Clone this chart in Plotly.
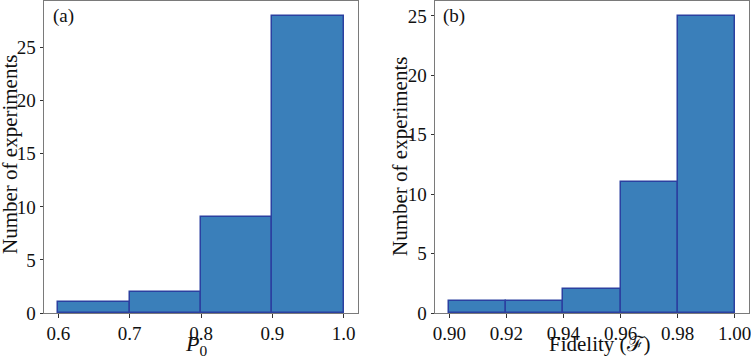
import plotly.graph_objects as go

# Panel (a): P0 histogram
p0_edges = [0.6, 0.7, 0.8, 0.9, 1.0]
p0_counts = [1, 2, 9, 28]
p0_ticks = [0.6, 0.7, 0.8, 0.9, 1.0]
p0_ticklabels = ["0.6", "0.7", "0.8", "0.9", "1.0"]

# Panel (b): Fidelity histogram
f_edges = [0.90, 0.92, 0.94, 0.96, 0.98, 1.00]
f_counts = [1, 1, 2, 11, 25]
f_ticks = [0.90, 0.92, 0.94, 0.96, 0.98, 1.00]
f_ticklabels = ["0.90", "0.92", "0.94", "0.96", "0.98", "1.00"]

y_ticks_a = [0, 5, 10, 15, 20, 25]
y_ticks_b = [0, 5, 10, 15, 20, 25]

W, H = 751, 356
FILL = "#3a7fba"
EDGE = "#2b40a0"
FRAME = "#7a7a7a"
FONT = "Liberation Serif"

fig = go.Figure()

def add_hist(edges, counts, xa, ya):
    lefts = edges[:-1]
    widths = [edges[i + 1] - edges[i] for i in range(len(counts))]
    fig.add_trace(go.Bar(
        x=lefts, y=counts, width=widths, offset=0,
        marker=dict(color=FILL, line=dict(color=EDGE, width=1.5)),
        xaxis=xa, yaxis=ya, showlegend=False, hoverinfo="skip",
    ))

add_hist(p0_edges, p0_counts, "x", "y")
add_hist(f_edges, f_counts, "x2", "y2")

def px(v):
    return v / W

def py(v):
    return 1 - v / H

xmin_a = p0_edges[0] - 0.05 * (p0_edges[-1] - p0_edges[0])
xmax_a = p0_edges[-1] + 0.05 * (p0_edges[-1] - p0_edges[0])
xmin_b = f_edges[0] - 0.05 * (f_edges[-1] - f_edges[0])
xmax_b = f_edges[-1] + 0.05 * (f_edges[-1] - f_edges[0])

def ann(text, x, y, size, angle=0, xanchor="center", yanchor="middle"):
    return dict(text=text, xref="paper", yref="paper", x=px(x), y=py(y),
                xanchor=xanchor, yanchor=yanchor, showarrow=False, textangle=angle,
                font=dict(family=FONT, size=size, color="#111"))

fig.update_layout(
    width=W, height=H,
    margin=dict(l=0, r=0, t=0, b=0),
    paper_bgcolor="white", plot_bgcolor="white",
    bargap=0,
    font=dict(family=FONT, size=19, color="#111"),
    xaxis=dict(domain=[px(44), px(358)], range=[xmin_a, xmax_a],
               tickvals=p0_ticks, ticktext=p0_ticklabels, anchor="y"),
    yaxis=dict(domain=[py(313), py(1)], range=[0, max(p0_counts) * 1.05],
               tickvals=y_ticks_a, anchor="x"),
    xaxis2=dict(domain=[px(435), px(749)], range=[xmin_b, xmax_b],
                tickvals=f_ticks, ticktext=f_ticklabels, anchor="y2"),
    yaxis2=dict(domain=[py(313), py(1)], range=[0, max(f_counts) * 1.05],
                tickvals=y_ticks_b, anchor="x2"),
    annotations=[
        ann("(a)", 51, 3, 19, xanchor="left", yanchor="top"),
        ann("(b)", 441, 3, 19, xanchor="left", yanchor="top"),
        ann("<i>P</i><sub>0</sub>", 196, 345, 22),
        ann("Fidelity (ℱ)", 600, 344, 21),
        ann("Number of experiments", 10, 155, 21, angle=-90),
        ann("Number of experiments", 400, 157, 21, angle=-90),
    ],
)

axis_style = dict(
    showline=True, linecolor=FRAME, linewidth=1, mirror=True,
    ticks="outside", ticklen=3.5, tickwidth=1, tickcolor="#333",
    showgrid=False, zeroline=False, automargin=False,
    ticklabeloverflow="allow",
    tickfont=dict(family=FONT, size=19, color="#111"),
)
fig.update_xaxes(**axis_style)
fig.update_yaxes(**axis_style)

fig.write_html("out.html", config={"displayModeBar": False},
               post_script="document.body.style.margin='0';document.body.style.overflow='hidden';")
